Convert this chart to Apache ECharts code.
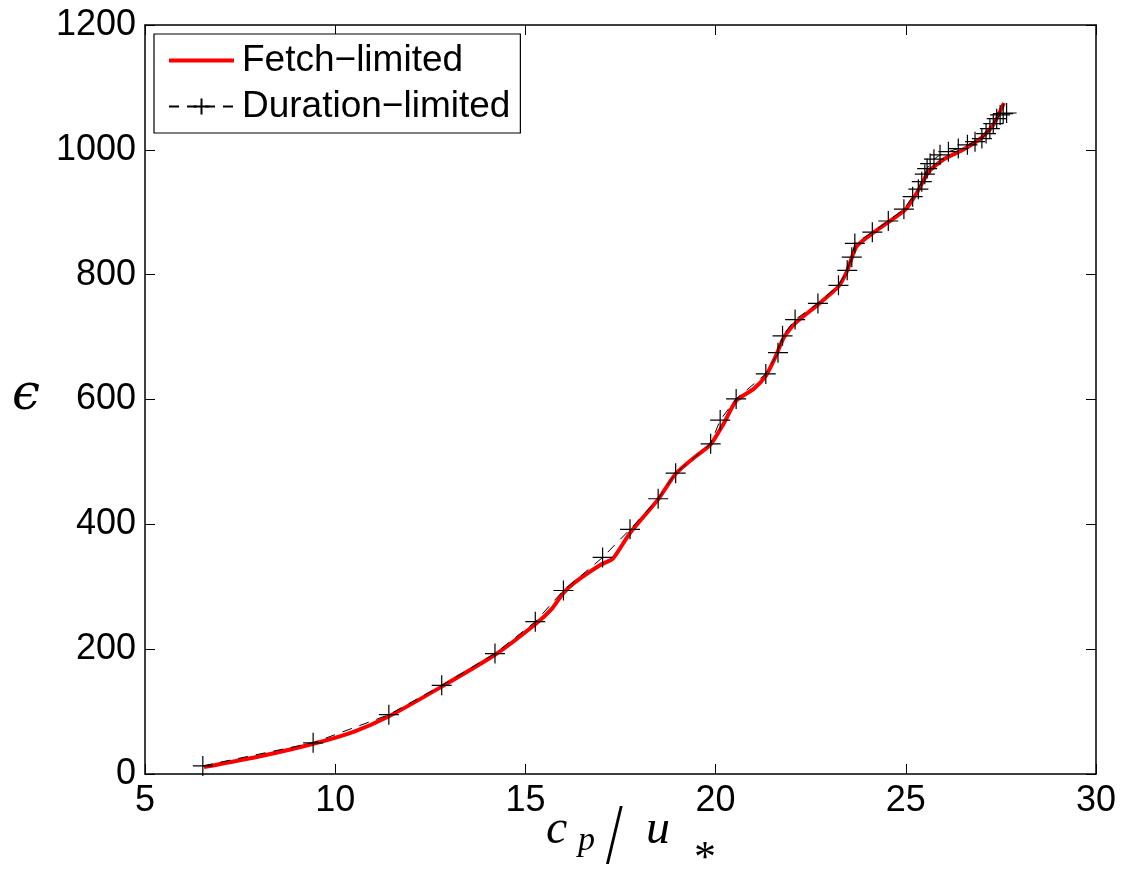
<!DOCTYPE html>
<html><head><meta charset="utf-8">
<script src="https://cdn.jsdelivr.net/npm/echarts@6/dist/echarts.min.js"></script>
<style>html,body{margin:0;padding:0;background:#fff}#c{width:1126px;height:873px}</style>
</head><body><div id="c"></div>
<script>
const xTicks = [5, 10, 15, 20, 25, 30];
const yTicks = [0, 200, 400, 600, 800, 1000, 1200];
const fetchX = [6.55, 8, 9.4, 10.5, 11.4, 12.8, 14.2, 15.26, 15.7, 16.0, 16.3, 17.0, 17.3, 17.75, 18.49, 18.95, 19.5, 19.87, 20.2, 20.54, 21.0, 21.32, 21.55, 21.8, 22.09, 22.69, 23.23, 23.45, 23.7, 24.12, 24.54, 25.0, 25.3, 25.6, 26.0, 26.5, 27.0, 27.3, 27.58];
const fetchY = [11, 28, 48, 68, 92, 140, 191, 240, 265, 290, 307, 336, 345, 386, 440, 481, 510, 528, 560, 598, 617, 638, 665, 700, 722, 752, 781, 805, 845, 866, 884, 905, 932, 965, 985, 1000, 1020, 1040, 1075];
const durX = [6.52, 9.42, 11.41, 12.80, 14.20, 15.26, 16.0, 17.03, 17.75, 18.49, 18.95, 19.87, 20.12, 20.54, 21.32, 21.64, 21.76, 22.09, 22.69, 23.23, 23.46, 23.58, 23.66, 24.12, 24.54, 24.95, 25.18, 25.33, 25.42, 25.50, 25.56, 25.64, 25.74, 25.90, 26.12, 26.38, 26.62, 26.82, 27.0, 27.11, 27.21, 27.30, 27.39, 27.48, 27.56, 27.65];
const durY = [13, 50, 95, 142, 193, 244, 294, 347, 392, 441, 482, 529, 567, 601, 641, 675, 702, 728, 754, 783, 807, 828, 850, 868, 886, 905, 925, 937, 949, 961, 970, 978, 985, 992, 997, 1002, 1008, 1013, 1018, 1026, 1034, 1042, 1050, 1056, 1058, 1059];
const names = ['Fetch\u2212limited', 'Duration\u2212limited'];

const chart = echarts.init(document.getElementById('c'), null, {renderer: 'canvas'});
const font = 'Liberation Sans, Arial, sans-serif';
const tickCommon = {
  axisLine: {show: true, onZero: false, lineStyle: {color: '#000', width: 1.5}},
  axisTick: {show: true, inside: true, length: 10, lineStyle: {color: '#000', width: 1}},
  splitLine: {show: false}
};
const lbl = {color: '#000', fontSize: 36, fontFamily: font, margin: 9, formatter: v => String(v)};
const plus = 'path://M10,0 L10,20 M0,10 L20,10';
const serif = '"Liberation Serif", "DejaVu Serif", serif';
chart.setOption({
  animation: false,
  grid: {left: 145, right: 30, top: 25, bottom: 99},
  xAxis: [
    Object.assign({type: 'value', min: xTicks[0], max: xTicks[xTicks.length-1], interval: 5, position: 'bottom',
      axisLabel: lbl}, tickCommon),
    Object.assign({type: 'value', min: xTicks[0], max: xTicks[xTicks.length-1], interval: 5, position: 'top',
      axisLabel: {show: false}}, tickCommon)
  ],
  yAxis: [
    Object.assign({type: 'value', min: yTicks[0], max: yTicks[yTicks.length-1], interval: 200, position: 'left',
      axisLabel: lbl}, tickCommon),
    Object.assign({type: 'value', min: yTicks[0], max: yTicks[yTicks.length-1], interval: 200, position: 'right',
      axisLabel: {show: false}}, tickCommon)
  ],
  legend: {
    left: 154, top: 34, orient: 'vertical', itemWidth: 65, itemHeight: 20, itemGap: 9,
    borderColor: '#000', borderWidth: 1.2, padding: [8, 10, 8, 13], backgroundColor: '#fff',
    textStyle: {fontSize: 37, fontFamily: font, color: '#000', padding: [0, 0, 0, 3]},
    data: [
      {name: names[0], itemStyle: {color: 'rgba(0,0,0,0)', borderWidth: 0}, lineStyle: {width: 4, color: '#ff0000'}},
      {name: names[1]}
    ]
  },
  series: [
    {
      name: names[1], type: 'line', xAxisIndex: 0, yAxisIndex: 0, z: 3,
      data: durX.map((x, i) => [x, durY[i]]),
      symbol: plus, symbolSize: 20, showAllSymbol: true,
      lineStyle: {color: '#000', width: 1, type: [10, 8]},
      itemStyle: {color: 'rgba(0,0,0,0)', borderColor: '#000', borderWidth: 1.2}
    },
    {
      name: names[0], type: 'line', xAxisIndex: 0, yAxisIndex: 0, z: 2,
      data: fetchX.map((x, i) => [x, fetchY[i]]),
      symbol: 'none', smooth: 0.2,
      lineStyle: {color: '#ff0000', width: 4},
      itemStyle: {color: '#ff0000'}
    }
  ],
  graphic: [
    {type: 'text', left: 12, top: 371, style: {text: '\u03f5', font: 'italic 50px "DejaVu Serif", serif', fill: '#000'}},
    {type: 'text', left: 546, top: 806, style: {text: 'c', font: 'italic 48px ' + serif, fill: '#000'}},
    {type: 'text', left: 578, top: 824, style: {text: 'p', font: 'italic 34px ' + serif, fill: '#000'}},
    {type: 'text', x: 606, y: 797, scaleY: 1.45, style: {text: '/', font: '60px ' + serif, fill: '#000'}},
    {type: 'text', left: 646, top: 806, style: {text: 'u', font: 'italic 48px ' + serif, fill: '#000'}},
    {type: 'text', left: 694, top: 837, style: {text: '*', font: '44px ' + serif, fill: '#000'}}
  ]
});
</script></body></html>
